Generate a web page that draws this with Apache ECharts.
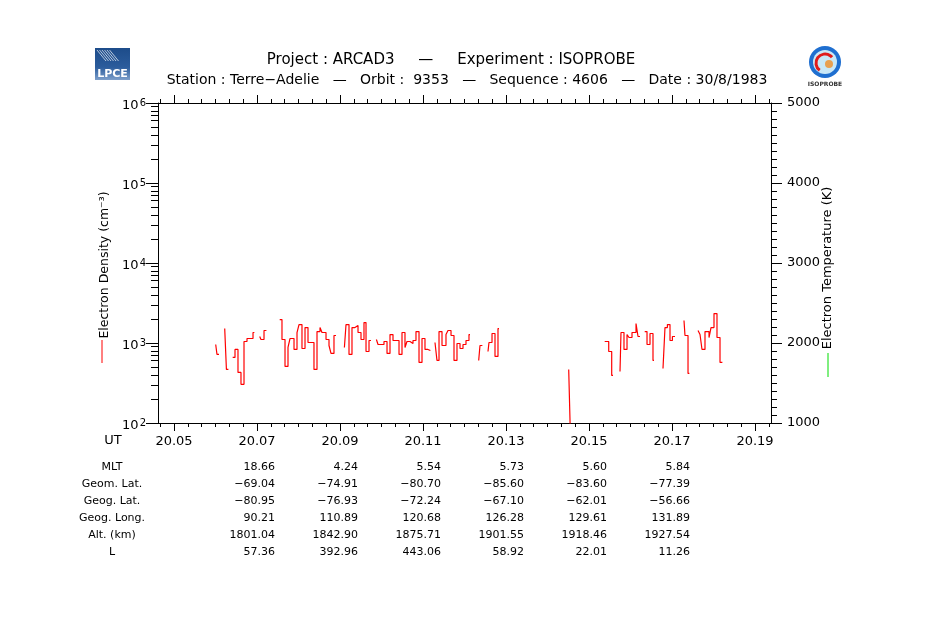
<!DOCTYPE html>
<html>
<head>
<meta charset="utf-8">
<script src="https://cdn.jsdelivr.net/npm/echarts@6/dist/echarts.min.js"></script>
<style>
  html, body { margin: 0; padding: 0; background: #fff; }
  #chart { width: 950px; height: 621px; }
</style>
</head>
<body>
<div id="chart"></div>
<script>
// UT (decimal hours) and electron density (cm-3), step samples; null = data gap
const ut = [
  20.06005, 20.06036, 20.06084, 20.06084,
  20.06222, 20.06263, 20.06311, 20.06311,
  20.06414, 20.06470, 20.06542, 20.06614, 20.06687, 20.06759, 20.06904, 20.06937, 20.06937,
  20.07065, 20.07096, 20.07169, 20.07227, 20.07227,
  20.07547, 20.07602, 20.07675, 20.07747, 20.07795, 20.07892, 20.07964, 20.08012, 20.08084, 20.08157,
  20.08229, 20.08373, 20.08446, 20.08518, 20.08566, 20.08663, 20.08735, 20.08783, 20.08855, 20.08904, 20.08904,
  20.09106, 20.09145, 20.09217, 20.09289, 20.09361, 20.09434, 20.09506, 20.09578, 20.09627, 20.09699, 20.09747, 20.09747,
  20.09877, 20.09916, 20.10060, 20.10133, 20.10205, 20.10277, 20.10422, 20.10494, 20.10566, 20.10614,
  20.10687, 20.10759, 20.10831, 20.10904, 20.10976, 20.11048, 20.11120, 20.11178, 20.11178,
  20.11289, 20.11337, 20.11386, 20.11458, 20.11554, 20.11602, 20.11675, 20.11747, 20.11819, 20.11892,
  20.11964, 20.12036, 20.12108, 20.12133, 20.12133,
  20.12342, 20.12373, 20.12431, 20.12431,
  20.12566, 20.12590, 20.12663, 20.12735, 20.12807, 20.12831, 20.12831,
  20.14511, 20.14559, 20.14607, 20.14607,
  20.15378, 20.15475, 20.15547, 20.15578, 20.15578,
  20.15747, 20.15771, 20.15843, 20.15916, 20.15964, 20.16036, 20.16133, 20.16181, 20.16229, 20.16229,
  20.16342, 20.16398, 20.16470, 20.16542, 20.16566, 20.16566,
  20.16783, 20.16831, 20.16889, 20.16952, 20.17010, 20.17072, 20.17072,
  20.17289, 20.17313, 20.17386, 20.17419, 20.17419,
  20.17627, 20.17675, 20.17723, 20.17795, 20.17892, 20.17940, 20.18012, 20.18084, 20.18157, 20.18214
]
const density = [
  958, 719, 719, null,
  1516, 467, 467, null,
  660, 830, 429, 304, 1044, 1138, 1352, 1352, null,
  1205, 1106, 1432, 1432, null,
  1963, 1106, 509, 879, 1138, 830, 1352, 1701, 854, 1561,
  1014, 467, 1391, 1561, 1352, 1106, 931, 740, 1241, 1241, null,
  879, 1701, 719, 1561, 1653, 1352, 1106, 1801, 783, 1074, 1074, null,
  1106, 958, 1044, 740, 1276, 1074, 719, 1352, 879, 1044,
  986, 1074, 1391, 571, 1138, 830, 806, 806, null,
  1014, 605, 1391, 931, 1276, 1432, 1241, 605, 986, 854,
  958, 1074, 1276, 1276, null,
  605, 931, 931, null,
  783, 1014, 1314, 679, 1516, 1516, null,
  467, 50, 50, null,
  1044, 783, 393, 393, null,
  441, 1352, 830, 1276, 1171, 1352, 1751, 1205, 1205, null,
  1391, 958, 1314, 605, 605, null,
  481, 1561, 1701, 1074, 1205, 1205, null,
  1908, 1241, 417, 417, null,
  1432, 1276, 830, 1391, 1171, 1561, 2332, 1171, 571, 571
]

const utTicks = [20.05, 20.07, 20.09, 20.11, 20.13, 20.15, 20.17, 20.19]
const decades = [1e2, 1e3, 1e4, 1e5, 1e6]

// orbit parameters table
const tableUT = [20.07, 20.09, 20.11, 20.13, 20.15, 20.17]
const rowNames = ['MLT', 'Geom. Lat.', 'Geog. Lat.', 'Geog. Long.', 'Alt. (km)', 'L']
const mlt = ['18.66', '4.24', '5.54', '5.73', '5.60', '5.84']
const geomLat = ['−69.04', '−74.91', '−80.70', '−85.60', '−83.60', '−77.39']
const geogLat = ['−80.95', '−76.93', '−72.24', '−67.10', '−62.01', '−56.66']
const geogLong = ['90.21', '110.89', '120.68', '126.28', '129.61', '131.89']
const altKm = ['1801.04', '1842.90', '1875.71', '1901.55', '1918.46', '1927.54']
const lShell = ['57.36', '392.96', '443.06', '58.92', '22.01', '11.26']

const FONT = 'DejaVu Sans'
const X_MIN = 20.046145
const X_MAX = 20.193855

// minor ticks
const xMinor = []
for (let v = 20.05 - 0.02 / 6; v < X_MAX; v += 0.02 / 6) {
  if (v > X_MIN) xMinor.push(+v.toFixed(6))
}
const yMinor = []
for (let e = 2; e < 6; e++) {
  for (let k = 2; k <= 9; k++) yMinor.push(k * Math.pow(10, e))
}

const chart = echarts.init(document.getElementById('chart'))

const data = ut.map((t, i) => [t, density[i] === null ? '-' : density[i]])

const blackLine = {show: true, lineStyle: {color: '#000', width: 1}}

const option = {
  animation: false,
  backgroundColor: '#fff',
  grid: {left: 158, right: 179, top: 103, bottom: 198, containLabel: false},
  xAxis: [
    {
      type: 'value', position: 'bottom', min: X_MIN, max: X_MAX,
      axisLine: blackLine,
      axisTick: {show: true, customValues: utTicks, length: 8, lineStyle: {color: '#000'}},
      axisLabel: {
        customValues: utTicks, formatter: v => v.toFixed(2),
        color: '#000', fontFamily: FONT, fontSize: 13, margin: 12,
      },
      splitLine: {show: false},
    },
    {
      type: 'value', position: 'bottom', min: X_MIN, max: X_MAX,
      axisLine: {show: false},
      axisTick: {show: true, customValues: xMinor, length: 4, lineStyle: {color: '#000'}},
      axisLabel: {show: false},
      splitLine: {show: false},
    },
    {
      type: 'value', position: 'top', min: X_MIN, max: X_MAX,
      axisLine: blackLine,
      axisTick: {show: true, customValues: utTicks, length: 8, lineStyle: {color: '#000'}},
      axisLabel: {show: false},
      splitLine: {show: false},
    },
    {
      type: 'value', position: 'top', min: X_MIN, max: X_MAX,
      axisLine: {show: false},
      axisTick: {show: true, customValues: xMinor, length: 4, lineStyle: {color: '#000'}},
      axisLabel: {show: false},
      splitLine: {show: false},
    },
  ],
  yAxis: [
    {
      type: 'log', logBase: 10, min: 100, max: 1e6, position: 'left',
      axisLine: blackLine,
      axisTick: {show: true, customValues: decades, length: 12, lineStyle: {color: '#000'}},
      axisLabel: {
        customValues: decades,
        formatter: v => '{b|10}{s|' + Math.round(Math.log10(v)) + '}',
        margin: 12,
        rich: {
          b: {fontFamily: FONT, fontSize: 13, lineHeight: 13, color: '#000', padding: [5, 0, 0, 0]},
          s: {fontFamily: FONT, fontSize: 10, lineHeight: 10, color: '#000', verticalAlign: 'top', padding: [2, 0, 0, 1]},
        },
      },
      splitLine: {show: false},
    },
    {
      type: 'log', logBase: 10, min: 100, max: 1e6, position: 'left',
      axisLine: {show: false},
      axisTick: {show: true, customValues: yMinor, length: 7, lineStyle: {color: '#000'}},
      axisLabel: {show: false},
      splitLine: {show: false},
    },
    {
      type: 'value', min: 1000, max: 5000, interval: 1000, position: 'right',
      axisLine: blackLine,
      axisTick: {show: true, length: 11, lineStyle: {color: '#000'}},
      minorTick: {show: true, splitNumber: 10, length: 6, lineStyle: {color: '#000'}},
      axisLabel: {color: '#000', fontFamily: FONT, fontSize: 13, margin: 16, formatter: v => String(v)},
      splitLine: {show: false},
      minorSplitLine: {show: false},
    },
  ],
  series: [
    {
      name: 'Electron Density',
      type: 'line',
      xAxisIndex: 0,
      yAxisIndex: 0,
      data: data,
      step: 'end',
      showSymbol: false,
      symbol: 'none',
      connectNulls: false,
      clip: true,
      lineStyle: {color: '#ff0000', width: 1.2},
    },
  ],
}

chart.setOption(option)

// texts, legend marks and logos
const g = []
const txt = (x, y, text, size, align, extra) => Object.assign({
  type: 'text', x: x, y: y,
  style: {text: text, fill: '#000', font: size + 'px "' + FONT + '"', align: align || 'center', verticalAlign: 'middle'},
}, extra || {})

g.push(txt(451, 60, 'Project : ARCAD3     —     Experiment : ISOPROBE', 15))
g.push(txt(467, 80, 'Station : Terre−Adelie   —   Orbit :  9353   —   Sequence : 4606   —   Date : 30/8/1983', 14))

// axis titles
g.push(txt(105, 265, 'Electron Density (cm⁻³)', 12.5, 'center', {rotation: Math.PI / 2}))
g.push({type: 'line', shape: {x1: 102, y1: 340, x2: 102, y2: 363}, style: {stroke: '#ff0000', lineWidth: 1}})
g.push(txt(828, 268, 'Electron Temperature (K)', 13, 'center', {rotation: Math.PI / 2}))
g.push({type: 'line', shape: {x1: 828, y1: 353, x2: 828, y2: 377}, style: {stroke: '#00dd00', lineWidth: 1}})

// UT + table
g.push(txt(113, 441, 'UT', 13))
const rows = [mlt, geomLat, geogLat, geogLong, altKm, lShell]
rows.forEach((row, r) => {
  const y = 467 + r * 17.1
  g.push(txt(112, y, rowNames[r], 11))
  row.forEach((val, c) => {
    const x = chart.convertToPixel({xAxisIndex: 0}, tableUT[c]) + 18
    g.push(txt(x, y, val, 11, 'right'))
  })
})

// LPCE logo
g.push({
  type: 'rect', shape: {x: 95, y: 48, width: 35, height: 32},
  style: {fill: new echarts.graphic.LinearGradient(0, 0, 0, 1, [
    {offset: 0, color: '#1d4c8a'}, {offset: 0.6, color: '#2b5c9c'}, {offset: 1, color: '#7d9fcb'},
  ])},
})
for (let i = 0; i < 6; i++) {
  g.push({type: 'line', shape: {x1: 97 + i * 2.5, y1: 50, x2: 97 + i * 2.5 + 9, y2: 61},
    style: {stroke: '#ffffff', lineWidth: 0.8, opacity: 0.85}})
}
g.push({type: 'text', x: 112.5, y: 74, style: {text: 'LPCE', fill: '#fff', font: 'bold 11px "DejaVu Sans"', align: 'center', verticalAlign: 'middle'}})

// ISOPROBE logo
g.push({type: 'circle', shape: {cx: 825, cy: 62, r: 16}, style: {fill: '#1f6fd0'}})
g.push({type: 'circle', shape: {cx: 825, cy: 62, r: 12}, style: {fill: '#c9e8f7'}})
g.push({type: 'arc', shape: {cx: 825, cy: 63, r: 9, startAngle: 2.2, endAngle: 5.6}, style: {stroke: '#e01b1b', lineWidth: 3, fill: 'none'}})
g.push({type: 'circle', shape: {cx: 829, cy: 64, r: 4}, style: {fill: '#e8a050'}})
g.push({type: 'text', x: 825, y: 84, style: {text: 'ISOPROBE', fill: '#333', font: 'bold 6px "DejaVu Sans"', align: 'center', verticalAlign: 'middle'}})

chart.setOption({graphic: g})
</script>
</body>
</html>
